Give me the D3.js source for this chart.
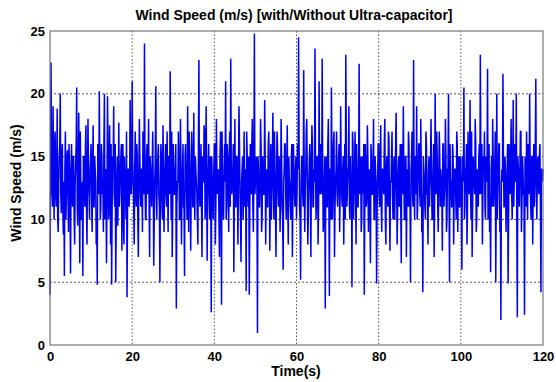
<!DOCTYPE html>
<html>
<head>
<meta charset="utf-8">
<script src="https://cdn.jsdelivr.net/npm/d3@7"></script>
<style>
  body { margin: 0; background: #fff; }
  text { font-family: "Liberation Sans", Arial, sans-serif; font-weight: bold; fill: #000; }
</style>
</head>
<body>
<div id="chart"></div>
<script>
// samples: on the quarter second ...
var sampleStep = 0.25;
var windSpeed = [
  4, 22.5, 12, 19, 10, 17, 11, 18.8, 9, 15, 20, 10.5, 16, 8.8, 5.5, 17, 12, 15.5, 9, 14,
  5.7, 16, 11, 15, 8, 14.5, 20.5, 9.5, 18.5, 6.5, 13, 10, 5.5, 15, 11, 17.5, 8, 18, 12, 14,
  16, 9, 17.5, 11, 14, 8, 4.8, 15, 20.2, 10, 16, 12, 9, 20, 11, 6.5, 19.8, 10, 17.5, 8,
  4.8, 15, 19, 11, 5, 13, 9.5, 17.7, 12, 15, 7.5, 16, 8, 13, 10, 3.8, 14, 11, 19.5, 12,
  21, 13, 8, 17, 11, 15, 7, 18, 12, 14, 9, 16.5, 24, 10, 15, 12, 18, 7, 14, 11,
  17, 6.3, 13, 20.6, 10, 15, 12, 5, 16, 11, 17.5, 9, 14, 12, 17, 9, 15, 21.8, 10, 7,
  16, 12, 14, 2.9, 13, 17, 10, 18, 8, 14, 11, 5.5, 16, 12, 19, 9, 15, 7.5, 17, 11,
  18.5, 10, 14, 12, 8, 22.7, 11, 16, 7, 13, 17.5, 10, 19, 6.7, 14, 12, 15, 2.6, 13, 10,
  16, 8, 18, 12, 14, 7, 17, 3.2, 13, 10, 16, 21, 11, 15, 9, 17, 22.8, 12, 14, 5.8,
  18, 11, 15, 8, 19, 12, 6.6, 14, 10, 17, 13, 4.3, 15, 11, 4, 16, 12, 18, 9, 24.8,
  13, 15, 0.95, 14, 11, 18, 9, 15, 12, 19.5, 8, 14, 11, 17, 7.5, 16, 12, 18.5, 10, 14,
  7, 17, 12, 15, 9, 18, 11, 6, 14, 16, 10, 17.5, 8, 13, 11, 15, 7, 16, 12, 14,
  10, 16, 24.5, 11, 5.2, 15, 12, 21.9, 9, 14, 18, 8, 13, 16, 7, 17.5, 11, 14, 23.6, 10,
  15, 8, 21, 12, 14, 22.8, 9, 13, 2.9, 15, 11, 18, 3.9, 14, 20.5, 10, 16, 7, 13, 17,
  11, 15, 9, 19, 12, 14, 8, 16, 23.1, 11, 14, 19, 10, 13, 4.6, 16, 12, 17, 8, 14,
  11, 22.4, 13, 9, 15, 12, 4, 16, 11, 17.5, 9, 14, 6.5, 15, 12, 18, 10, 14, 4.9, 13,
  16, 11, 17.5, 9, 14, 12, 18, 8, 15, 11, 16.5, 7.5, 13, 17, 10, 15, 12, 18.5, 8, 14,
  11, 16, 6.5, 13, 19, 10, 15, 7, 14, 17, 11, 5, 15, 12, 22.7, 10, 14, 19, 11, 16,
  12, 18, 9, 4.2, 14, 11, 17, 12, 8, 15, 13, 18, 10, 14, 7, 20, 12, 15, 9, 17,
  11, 13, 7.5, 16, 12, 18, 9, 14, 20, 5, 13, 11, 16, 8, 14, 12, 17, 9, 15, 11,
  13, 6, 15, 20.5, 11, 14, 8, 17, 12, 19.5, 10, 7, 15, 13, 18, 9, 14, 11, 16, 23.1,
  12, 8, 15, 17, 10, 14, 22, 12, 9, 5.8, 15, 18, 11, 14, 5, 20, 12, 16, 9, 2,
  14, 21.6, 11, 15, 9, 13, 4.9, 16, 12, 18, 10, 19.5, 13, 15, 20, 2.2, 14, 11, 17, 9,
  15, 12, 2.4, 14, 17, 10, 13, 20, 11, 15, 8, 16, 13, 21.2, 10, 15, 12, 16, 4.2, 14,
  14
];
// ... and the samples in between (t + 0.125 s)
var windSpeedMid = [
  13, 15, 11, 14, 16, 12, 14, 10, 13, 16, 12, 15, 11, 13, 14, 10, 15, 12, 16, 11,
  14, 12, 15, 10, 13, 16, 11, 14, 12, 17, 10, 13, 15, 12, 16, 11, 14, 13, 10, 15,
  12, 14, 11, 15, 13, 10, 16, 12, 14, 11, 15, 13, 16, 10, 14, 12, 15, 11, 13, 16,
  11, 14, 12, 16, 10, 15, 13, 11, 14, 16, 12, 10, 15, 13, 17, 11, 14, 12, 15, 13,
  15, 11, 14, 12, 16, 10, 13, 15, 11, 14, 17, 12, 13, 10, 16, 14, 11, 15, 12, 14,
  13, 10, 15, 12, 14, 16, 11, 13, 15, 10, 14, 12, 16, 11, 13, 15, 12, 14, 17, 11,
  14, 12, 16, 11, 13, 15, 10, 14, 12, 16, 11, 15, 13, 10, 14, 17, 12, 13, 15, 11,
  12, 15, 13, 10, 16, 12, 14, 11, 15, 13, 17, 11, 14, 12, 16, 10, 13, 15, 12, 14,
  16, 11, 14, 13, 10, 15, 12, 17, 11, 14, 13, 10, 16, 12, 15, 11, 14, 13, 16, 12,
  11, 15, 12, 14, 16, 10, 13, 15, 12, 11, 14, 17, 12, 15, 10, 13, 16, 11, 14, 12,
  14, 12, 15, 11, 13, 16, 10, 14, 12, 15, 13, 11, 16, 14, 12, 10, 15, 13, 17, 11,
  13, 16, 11, 14, 12, 15, 10, 13, 16, 12, 14, 11, 15, 13, 10, 16, 12, 14, 11, 15,
  12, 14, 16, 10, 13, 15, 11, 14, 12, 17, 13, 10, 15, 12, 14, 16, 11, 13, 15, 12,
  15, 11, 13, 16, 12, 14, 10, 15, 13, 11, 16, 12, 14, 10, 15, 13, 17, 11, 14, 12,
  13, 16, 12, 14, 11, 15, 13, 10, 16, 12, 14, 11, 15, 13, 17, 10, 14, 12, 16, 11,
  14, 12, 15, 10, 13, 16, 11, 14, 12, 15, 13, 11, 16, 12, 14, 10, 15, 13, 11, 16,
  12, 15, 11, 14, 13, 16, 10, 14, 12, 17, 11, 13, 15, 12, 14, 10, 16, 13, 11, 15,
  13, 11, 16, 12, 14, 10, 15, 13, 11, 16, 12, 14, 17, 11, 13, 15, 12, 10, 14, 16,
  11, 14, 12, 15, 13, 10, 16, 12, 14, 11, 15, 13, 10, 16, 12, 14, 17, 11, 13, 15,
  14, 12, 16, 11, 13, 15, 10, 14, 12, 16, 13, 11, 15, 12, 14, 10, 16, 13, 11, 15,
  12, 15, 13, 10, 14, 16, 11, 13, 15, 12, 17, 11, 14, 12, 16, 10, 13, 15, 12, 14,
  16, 12, 14, 11, 15, 13, 10, 16, 12, 14, 11, 15, 13, 17, 12, 10, 14, 16, 11, 13,
  13, 15, 11, 14, 12, 16, 10, 13, 15, 12, 14, 11, 16, 13, 10, 15, 12, 14, 17, 11,
  14, 12, 15, 11, 13, 16, 12, 14, 10, 15, 13, 11, 16, 12, 14, 13, 15, 11, 14, 13
];
var xTicks = [0, 20, 40, 60, 80, 100, 120];
var yTicks = [0, 5, 10, 15, 20, 25];
var xGrid = [20, 40, 60, 80, 100];
var yGrid = [5, 10, 15, 20];

// merge both sample sets into one time series
var series = [];
windSpeed.forEach(function(v, i) {
    series.push({t: i * sampleStep, v: v});
    if (i < windSpeedMid.length) {
        series.push({t: i * sampleStep + sampleStep / 2, v: windSpeedMid[i]});
    }
});

var width = 556, height = 382;
var margin = {top: 31, right: 13, bottom: 37, left: 50};
var w = width - margin.left - margin.right;
var h = height - margin.top - margin.bottom;

var svg = d3.select("#chart")
            .append("svg")
            .attr("width", width)
            .attr("height", height);

var g = svg.append("g")
           .attr("transform", "translate(" + margin.left + "," + margin.top + ")");

var x = d3.scaleLinear().domain([0, 120]).range([0, w]);
var y = d3.scaleLinear().domain([0, 25]).range([h, 0]);

// grid
g.selectAll(".vgrid")
 .data(xGrid)
 .enter()
 .append("line")
 .attr("x1", function(d) { return x(d); })
 .attr("x2", function(d) { return x(d); })
 .attr("y1", 0)
 .attr("y2", h)
 .style("stroke", "#555")
 .style("stroke-width", 1)
 .style("stroke-dasharray", "1.5,2");

g.selectAll(".hgrid")
 .data(yGrid)
 .enter()
 .append("line")
 .attr("x1", 0)
 .attr("x2", w)
 .attr("y1", function(d) { return y(d); })
 .attr("y2", function(d) { return y(d); })
 .style("stroke", "#555")
 .style("stroke-width", 1)
 .style("stroke-dasharray", "2,2");

// signal
var line = d3.line()
    .x(function(d) { return x(d.t); })
    .y(function(d) { return y(d.v); });

g.append("path")
 .datum(series)
 .attr("d", line)
 .style("fill", "none")
 .style("stroke", "#0000f0")
 .style("stroke-width", 1.5);

// frame
g.append("rect")
 .attr("x", 0)
 .attr("y", 0)
 .attr("width", w)
 .attr("height", h)
 .style("fill", "none")
 .style("stroke", "#777")
 .style("stroke-width", 1.2);

// axes
var xAxis = g.append("g")
    .attr("transform", "translate(0," + h + ")")
    .call(d3.axisBottom(x).tickValues(xTicks).tickSize(0).tickPadding(7));
var yAxis = g.append("g")
    .call(d3.axisLeft(y).tickValues(yTicks).tickSize(0).tickPadding(5));

[xAxis, yAxis].forEach(function(a) {
    a.select(".domain").remove();
    a.selectAll("text")
     .style("font-size", "13px")
     .style("font-family", "'Liberation Sans', Arial, sans-serif")
     .style("font-weight", "bold")
     .style("fill", "#000");
});

// labels
svg.append("text")
   .attr("x", 294)
   .attr("y", 20)
   .attr("text-anchor", "middle")
   .style("font-size", "14px")
   .text("Wind Speed (m/s) [with/Without Ultra-capacitor]");

svg.append("text")
   .attr("x", 296)
   .attr("y", 376)
   .attr("text-anchor", "middle")
   .style("font-size", "14px")
   .text("Time(s)");

svg.append("text")
   .attr("transform", "translate(21,183) rotate(-90)")
   .attr("text-anchor", "middle")
   .style("font-size", "14px")
   .text("Wind Speed (m/s)");
</script>
</body>
</html>
